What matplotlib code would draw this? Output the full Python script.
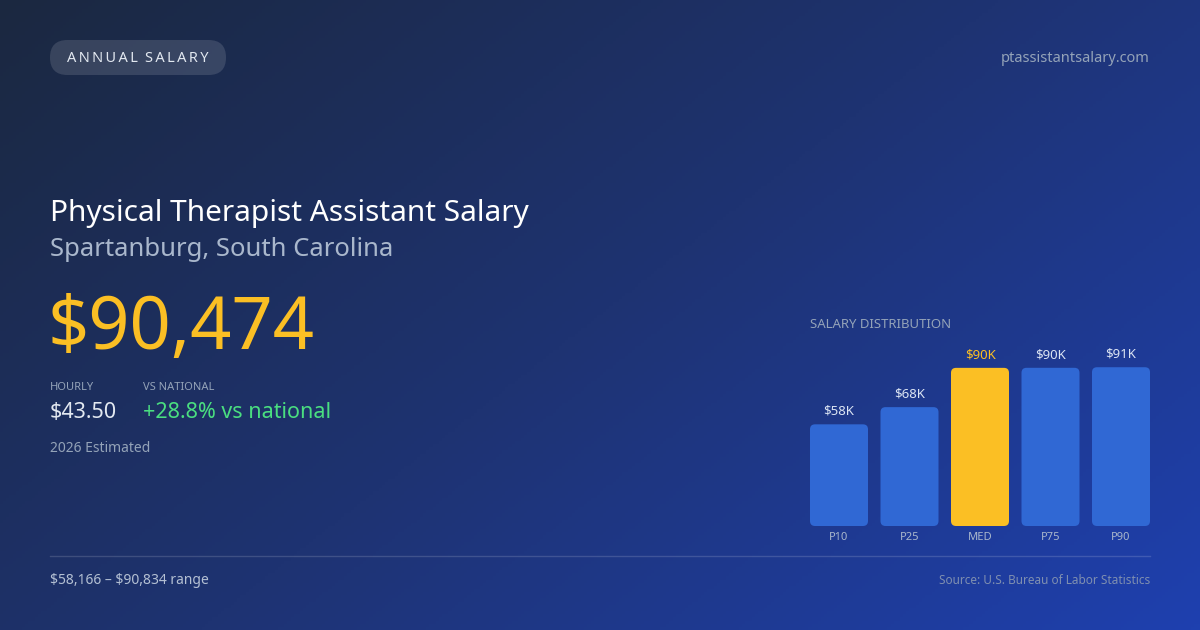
import numpy as np
import matplotlib
matplotlib.use("Agg")
import matplotlib.pyplot as plt
from matplotlib.patches import FancyBboxPatch
from matplotlib.colors import LinearSegmentedColormap

# --- data ---
labels = ["P10", "P25", "MED", "P75", "P90"]
values_k = [58.166, 68.0, 90.474, 90.5, 90.834]
value_text = ["$58K", "$68K", "$90K", "$90K", "$91K"]
highlight = 2

plt.rcParams["font.family"] = ["Noto Sans", "DejaVu Sans"]
plt.rcParams["text.parse_math"] = False

W, H = 1200, 630
fig = plt.figure(figsize=(12, 6.3), dpi=100)

# background gradient (diagonal)
bg = fig.add_axes([0, 0, 1, 1])
bg.set_xlim(0, W)
bg.set_ylim(H, 0)
bg.axis("off")
yy, xx = np.mgrid[0:1:200j, 0:1:380j]
g = np.clip(0.6 * xx + 0.4 * yy, 0, 1)
cmap = LinearSegmentedColormap.from_list("bg", ["#1b2840", "#1e3372", "#1e40af"])
bg.imshow(g, extent=[0, W, H, 0], cmap=cmap, aspect="auto", zorder=0)

# pill
bg.add_patch(FancyBboxPatch((50, 40), 176, 35,
                            boxstyle="round,pad=0,rounding_size=17.5",
                            fc=(1, 1, 1, 0.13), ec="none", zorder=1))
bg.text(138, 58, "\u2009".join("ANNUAL") + "\u2009\u2009\u2009" + "\u2009".join("SALARY"),
        color="#e2e8f0", fontsize=10.5, ha="center", va="center", zorder=2)
bg.text(1150, 58, "ptassistantsalary.com", color="#94a3b8", fontsize=10.5,
        ha="right", va="center")

# headline block
bg.text(50, 213, "Physical Therapist Assistant Salary", color="white",
        fontsize=21.5, ha="left", va="center")
bg.text(50, 250, "Spartanburg, South Carolina", color="#a9b7cc",
        fontsize=18.5, ha="left", va="center")
bg.text(47, 330, "$90,474", color="#fbbf24", fontsize=52, ha="left", va="center")

bg.text(50, 387, "HOURLY", color="#94a3b8", fontsize=8, ha="left", va="center")
bg.text(143, 387, "VS NATIONAL", color="#94a3b8", fontsize=8, ha="left", va="center")
bg.text(50, 413, "$43.50", color="#e2e8f0", fontsize=15.5, ha="left", va="center")
bg.text(143, 413, "+28.8% vs national", color="#4ade80", fontsize=15.5,
        ha="left", va="center")
bg.text(50, 449, "2026 Estimated", color="#94a3b8", fontsize=10, ha="left", va="center")

# footer
bg.plot([50, 1150], [556, 556], color=(1, 1, 1, 0.15), lw=1)
bg.text(50, 581, "$58,166 \u2013 $90,834 range", color="#b4c0d3", fontsize=10,
        ha="left", va="center")
bg.text(1150, 581, "Source: U.S. Bureau of Labor Statistics", color="#7f8fb0",
        fontsize=8.5, ha="right", va="center")

bg.text(810, 325, "SALARY DISTRIBUTION", color="#94a3b8", fontsize=9.5,
        ha="left", va="center")

# bar chart: pixel scale ~1.748 px per $K
px_per_k = 1.748
ymax = 100
ax_h = ymax * px_per_k
ax = fig.add_axes([810 / W, (H - 526) / H, 340 / W, ax_h / H])
ax.axis("off")
w = 58 / 70.5
ax.set_xlim(-w / 2, 4 + w / 2)
ax.set_ylim(0, ymax)
x = np.arange(len(labels))
bars = ax.bar(x, values_k, width=w, color="none")
rx = 5 / 70.5
ry = 5 / px_per_k
for i, b in enumerate(bars):
    col = "#fbbf24" if i == highlight else "#3068d4"
    ax.add_patch(FancyBboxPatch((b.get_x(), 0), b.get_width(), b.get_height(),
                                boxstyle=f"round,pad=0,rounding_size={rx}",
                                mutation_aspect=ry / rx, fc=col, ec="none"))
    tc = "#fbbf24" if i == highlight else "#dbe4f3"
    ax.text(b.get_x() + b.get_width() / 2, b.get_height() + 13 / px_per_k,
            value_text[i], color=tc, fontsize=9.5, ha="center", va="center")
    ax.text(b.get_x() + b.get_width() / 2, -12 / px_per_k, labels[i],
            color="#a9b7cc", fontsize=8, ha="center", va="center", clip_on=False)

fig.savefig("out.png", dpi=100)
